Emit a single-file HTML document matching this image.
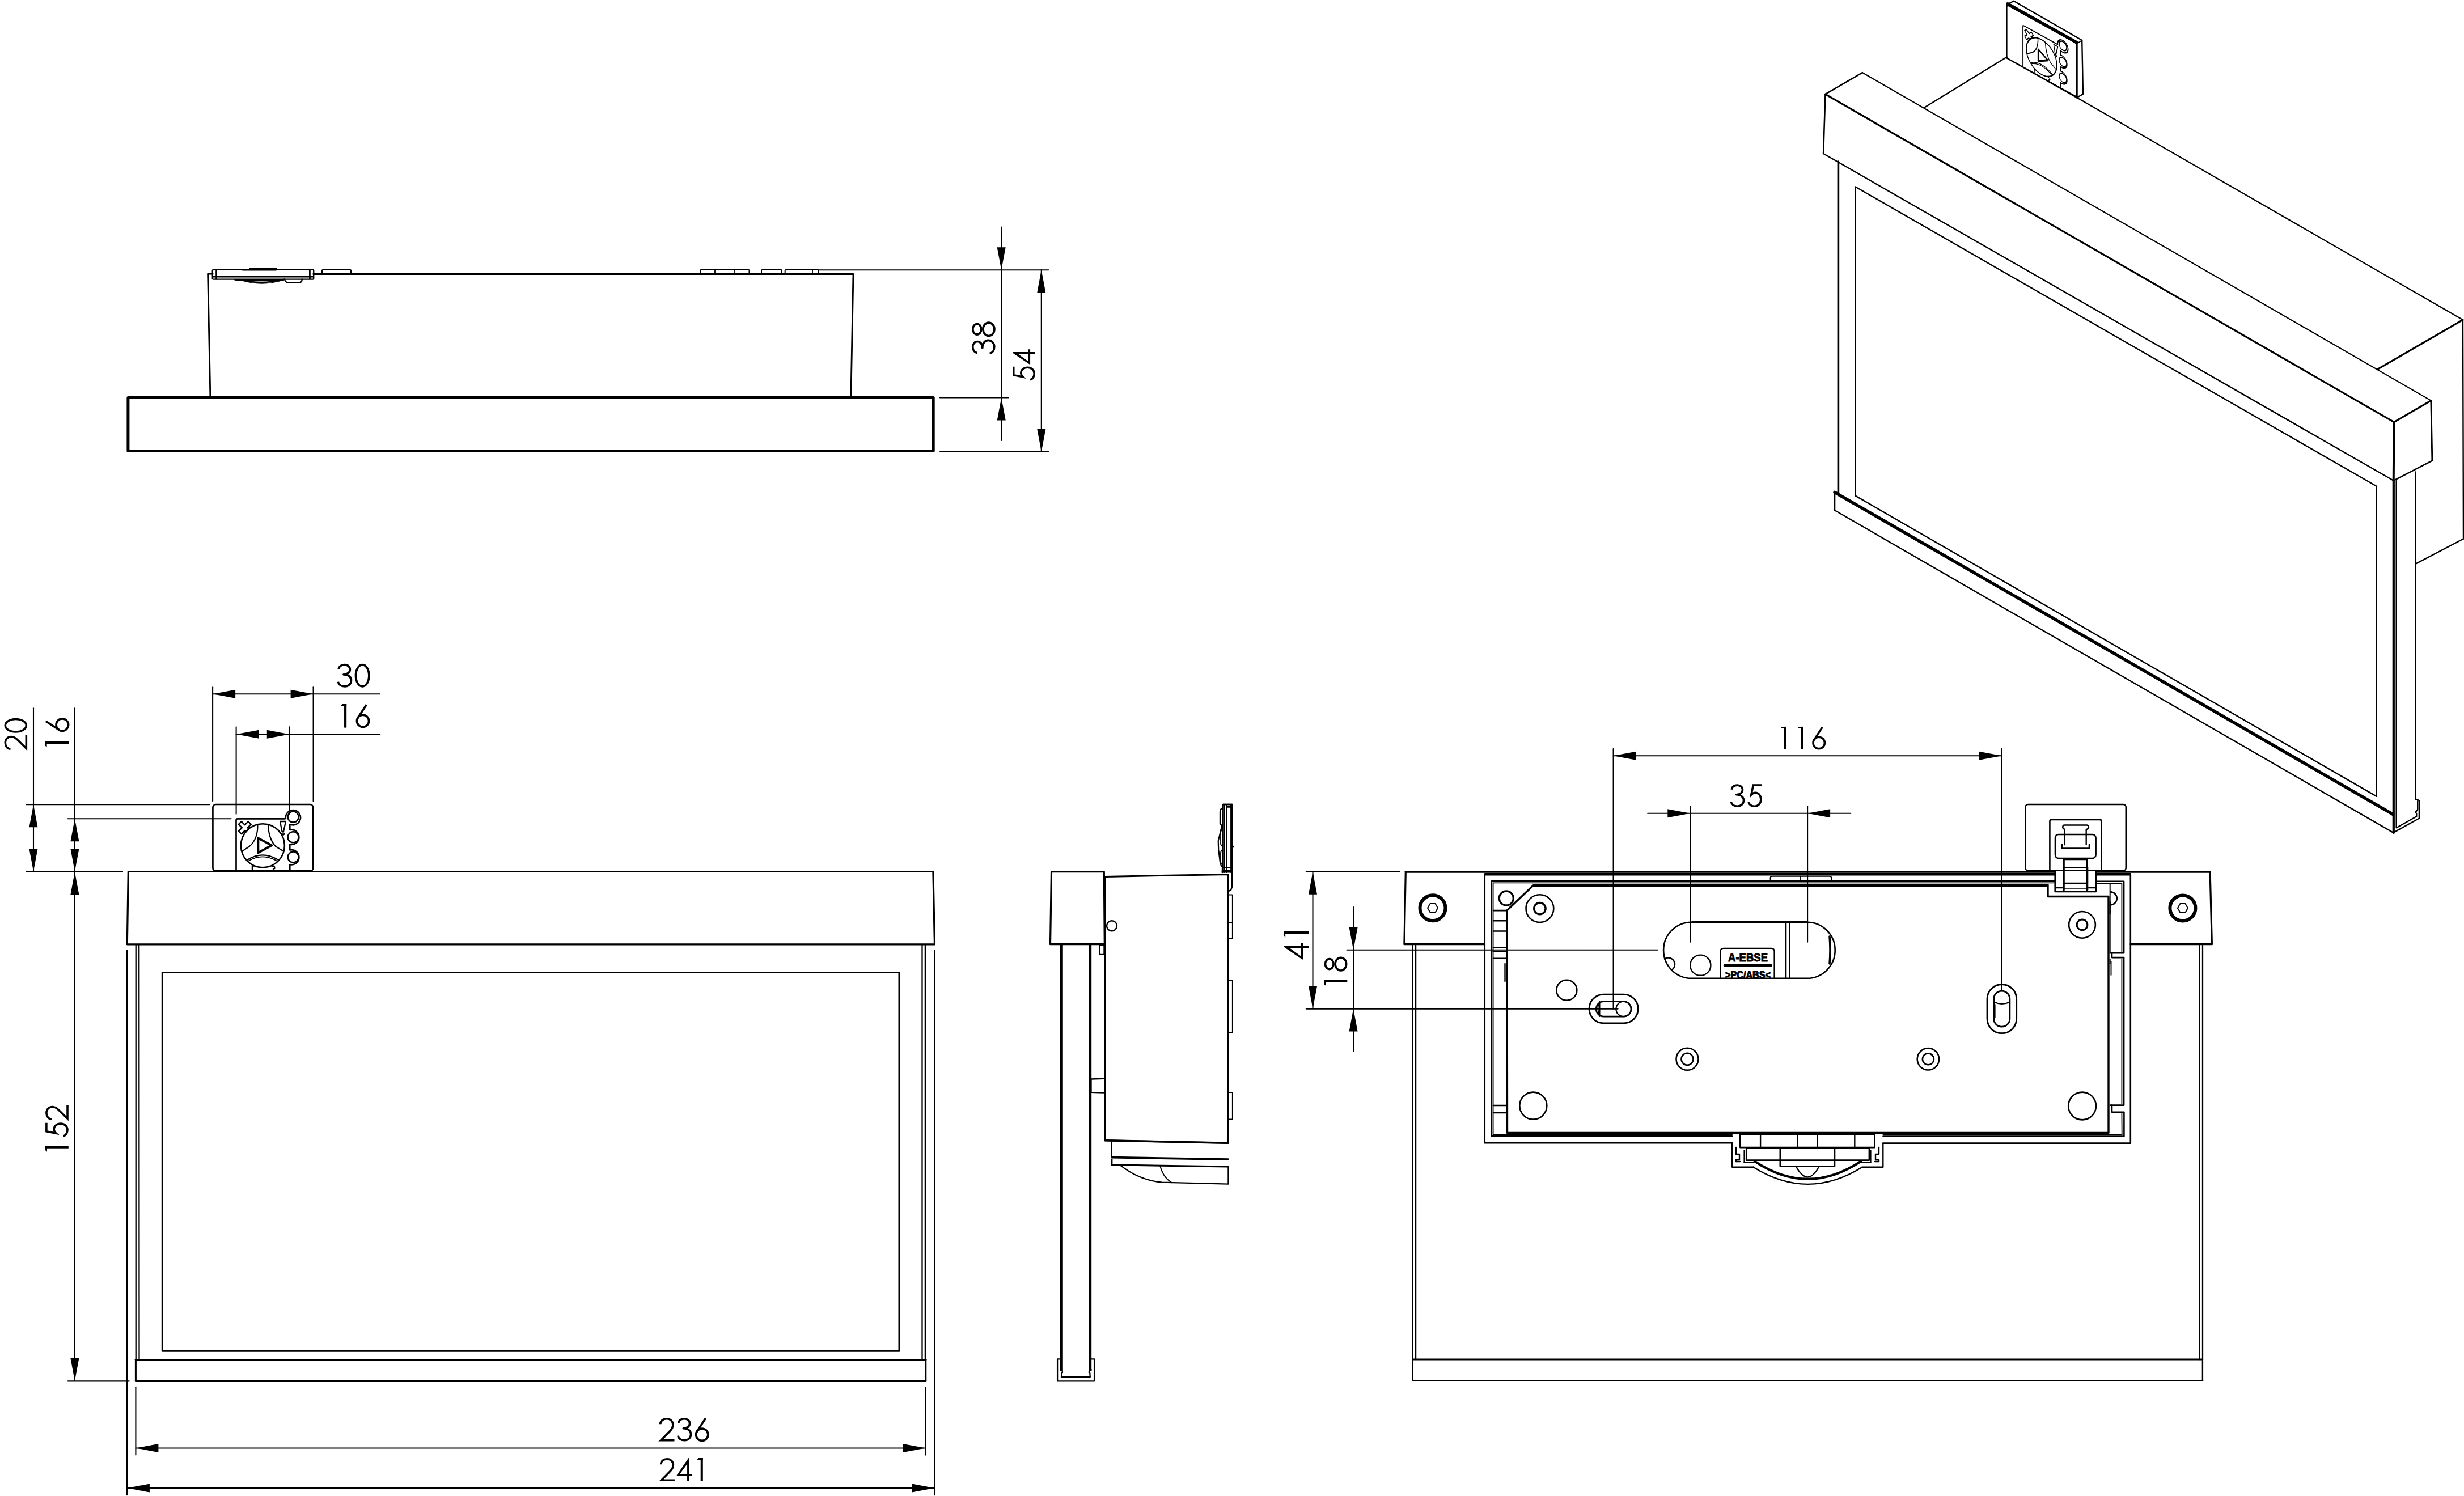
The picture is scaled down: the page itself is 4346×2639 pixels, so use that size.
<!DOCTYPE html>
<html><head><meta charset="utf-8"><style>
html,body{margin:0;padding:0;background:#fff;}
svg{display:block;}
</style></head><body>
<svg width="4346" height="2639" viewBox="0 0 4346 2639">
<rect x="0" y="0" width="4346" height="2639" fill="#fff"/>
<g stroke="#000" fill="none" stroke-linecap="round" stroke-linejoin="round" font-family="Liberation Sans, sans-serif">
<g fill="#000" stroke="none"></g>
<rect x="225.9" y="701.4" width="1420.3" height="94" rx="0" stroke-width="5" fill="none"/>
<polyline points="375.2,483.2 366.6,483.2 370.9,700 1500.9,700 1505,483.5 552.6,483.5" stroke-width="2.8" fill="none"/>
<rect x="374.8" y="475.9" width="178.4" height="16.7" rx="1.5" stroke-width="2.4" fill="none"/>
<line x1="376" y1="487.1" x2="552" y2="487.1" stroke-width="2.4"/>
<line x1="376" y1="490" x2="552" y2="490" stroke-width="1"/>
<line x1="381.6" y1="476.5" x2="381.6" y2="492" stroke-width="2.8"/>
<line x1="546.4" y1="476.5" x2="546.4" y2="492" stroke-width="2.8"/>
<rect x="439.5" y="472.5" width="48.9" height="4.5" rx="1.8" stroke-width="1" fill="#000"/>
<line x1="428" y1="476.2" x2="440" y2="476.2" stroke-width="2.6"/>
<path d="M414.5,493.4 L426,493.4 Q460,503 500.9,493" stroke-width="2.6" fill="none"/>
<line x1="416" y1="493.6" x2="500" y2="493.6" stroke-width="2.6"/>
<path d="M425,494.5 Q462,506 500,494" stroke-width="1.2" fill="none"/>
<path d="M502,492.4 Q503,498.6 509,498.6 L527,498.6 Q532.7,498.6 532.7,492.4" stroke-width="2.4" fill="none"/>
<rect x="568" y="476" width="51" height="7.2" rx="1.2" stroke-width="2" fill="none"/>
<rect x="1235" y="476" width="86.5" height="7.5" rx="1.2" stroke-width="2" fill="none"/>
<line x1="1261" y1="476" x2="1261" y2="483.5" stroke-width="1.8"/>
<line x1="1296" y1="476" x2="1296" y2="483.5" stroke-width="1.8"/>
<rect x="1343" y="476" width="36" height="7.5" rx="1.2" stroke-width="2" fill="none"/>
<rect x="1384.7" y="476" width="58.8" height="7.5" rx="1.2" stroke-width="2" fill="none"/>
<line x1="1433" y1="476" x2="1433" y2="483.5" stroke-width="1.8"/>
<line x1="1444" y1="476.2" x2="1849.4" y2="476.2" stroke-width="2.1"/>
<line x1="1658" y1="701.5" x2="1778.8" y2="701.5" stroke-width="2.1"/>
<line x1="1658" y1="797" x2="1849.4" y2="797" stroke-width="2.1"/>
<line x1="1766.2" y1="400.6" x2="1766.2" y2="777" stroke-width="2.1"/>
<polygon points="1766.2,476.2 1758.7,436.2 1773.7,436.2" stroke="none" fill="#000"/>
<polygon points="1766.2,701.5 1758.7,741.5 1773.7,741.5" stroke="none" fill="#000"/>
<line x1="1836.8" y1="476.2" x2="1836.8" y2="797" stroke-width="2.1"/>
<polygon points="1836.8,476.2 1829.3,516.2 1844.3,516.2" stroke="none" fill="#000"/>
<polygon points="1836.8,797 1829.3,757 1844.3,757" stroke="none" fill="#000"/>
<g transform="matrix(0,-41.700,41.700,0,1713.900,611.884)" stroke-width="0.088" stroke-linecap="butt" fill="none"><g transform="translate(0.000,0)"><path d="M-0.255,0.23 C-0.235,0.11 -0.135,0.044 -0.005,0.044 C0.135,0.044 0.225,0.13 0.225,0.24 C0.225,0.36 0.125,0.453 -0.045,0.453 C0.165,0.453 0.275,0.57 0.275,0.7 C0.275,0.85 0.155,0.956 0.005,0.956 C-0.155,0.956 -0.255,0.87 -0.275,0.76"/></g><g transform="translate(0.745,0)"><ellipse cx="0" cy="0.225" rx="0.223" ry="0.18"/><ellipse cx="0" cy="0.72" rx="0.28" ry="0.24"/></g></g>
<g transform="matrix(0,-40.000,40.000,0,1786.000,659.200)" stroke-width="0.088" stroke-linecap="butt" fill="none"><g transform="translate(0.000,0)"><path d="M0.31,0.044 L-0.06,0.044 L-0.145,0.46 C-0.09,0.4 -0.03,0.37 0.03,0.37 C0.18,0.37 0.275,0.5 0.275,0.665 C0.275,0.83 0.16,0.956 0.005,0.956 C-0.13,0.956 -0.23,0.88 -0.27,0.78" stroke-linejoin="miter"/></g><g transform="translate(0.745,0)"><path d="M0.175,0 L0.213,0 L0.213,0.69 L0.33,0.69 L0.33,0.777 L0.213,0.777 L0.213,1 L0.117,1 L0.117,0.777 L-0.33,0.777 L-0.33,0.74 Z M0.117,0.255 L0.117,0.69 L-0.2,0.69 Z" fill="#000" fill-rule="evenodd" stroke="none"/></g></g>
<polygon points="226.3,1537.5 1645.9,1537.5 1648.5,1665.8 224.3,1665.8" stroke-width="3.2" fill="none"/>
<line x1="239.7" y1="1667" x2="239.7" y2="2398" stroke-width="2.3"/>
<line x1="245.2" y1="1667" x2="245.5" y2="2398" stroke-width="2.3"/>
<line x1="1626.5" y1="1667" x2="1626.5" y2="2398" stroke-width="2.3"/>
<line x1="1631.9" y1="1667" x2="1631.9" y2="2398" stroke-width="2.3"/>
<line x1="224" y1="1676" x2="224" y2="2637.3" stroke-width="2.1"/>
<line x1="1648.5" y1="1676" x2="1648.5" y2="2637.3" stroke-width="2.1"/>
<rect x="286.3" y="1715.5" width="1299.7" height="667.8" rx="0" stroke-width="3" fill="none"/>
<line x1="239.4" y1="2398.6" x2="1632.8" y2="2398.6" stroke-width="3.4"/>
<line x1="239.4" y1="2436.2" x2="1632.8" y2="2436.2" stroke-width="3.4"/>
<line x1="239.4" y1="2398.6" x2="239.4" y2="2436.2" stroke-width="3"/>
<line x1="1632.8" y1="2398.6" x2="1632.8" y2="2436.2" stroke-width="3"/>
<line x1="239.4" y1="2447.3" x2="239.4" y2="2566.6" stroke-width="2.1"/>
<line x1="1632.8" y1="2447.3" x2="1632.8" y2="2566.6" stroke-width="2.1"/>
<line x1="239.4" y1="2554.5" x2="1632.8" y2="2554.5" stroke-width="2.1"/>
<polygon points="239.4,2554.5 279.4,2547 279.4,2562" stroke="none" fill="#000"/>
<polygon points="1632.8,2554.5 1592.8,2547 1592.8,2562" stroke="none" fill="#000"/>
<line x1="223.9" y1="2625.1" x2="1648.4" y2="2625.1" stroke-width="2.1"/>
<polygon points="223.9,2625.1 263.9,2617.6 263.9,2632.6" stroke="none" fill="#000"/>
<polygon points="1648.4,2625.1 1608.4,2617.6 1608.4,2632.6" stroke="none" fill="#000"/>
<g transform="matrix(41.700,0,0,41.700,1176.121,2500.900)" stroke-width="0.088" stroke-linecap="butt" fill="none"><g transform="translate(0.000,0)"><path d="M-0.273,0.27 C-0.273,0.13 -0.151,0.044 -0.005,0.044 C0.149,0.044 0.259,0.15 0.259,0.3 C0.259,0.42 0.199,0.5 0.119,0.58 L-0.251,0.956 L0.321,0.956" stroke-linejoin="miter" stroke-miterlimit="8"/></g><g transform="translate(0.745,0)"><path d="M-0.255,0.23 C-0.235,0.11 -0.135,0.044 -0.005,0.044 C0.135,0.044 0.225,0.13 0.225,0.24 C0.225,0.36 0.125,0.453 -0.045,0.453 C0.165,0.453 0.275,0.57 0.275,0.7 C0.275,0.85 0.155,0.956 0.005,0.956 C-0.155,0.956 -0.255,0.87 -0.275,0.76"/></g><g transform="translate(1.490,0)"><circle cx="0" cy="0.715" r="0.256"/><path d="M0.15,0.025 L-0.225,0.6"/></g></g>
<g transform="matrix(40.900,0,0,40.900,1176.821,2572.100)" stroke-width="0.088" stroke-linecap="butt" fill="none"><g transform="translate(0.000,0)"><path d="M-0.273,0.27 C-0.273,0.13 -0.151,0.044 -0.005,0.044 C0.149,0.044 0.259,0.15 0.259,0.3 C0.259,0.42 0.199,0.5 0.119,0.58 L-0.251,0.956 L0.321,0.956" stroke-linejoin="miter" stroke-miterlimit="8"/></g><g transform="translate(0.745,0)"><path d="M0.175,0 L0.213,0 L0.213,0.69 L0.33,0.69 L0.33,0.777 L0.213,0.777 L0.213,1 L0.117,1 L0.117,0.777 L-0.33,0.777 L-0.33,0.74 Z M0.117,0.255 L0.117,0.69 L-0.2,0.69 Z" fill="#000" fill-rule="evenodd" stroke="none"/></g><g transform="translate(1.490,0)"><path d="M0,0 L0,1" stroke-width="0.1"/><path d="M-0.2,0.07 L-0.135,0 L0.05,0 L0.05,0.07 Z" fill="#000" stroke="none"/></g></g>
<line x1="131.9" y1="1249.3" x2="131.9" y2="2436" stroke-width="2.1"/>
<polygon points="131.9,1444.2 124.4,1484.2 139.4,1484.2" stroke="none" fill="#000"/>
<polygon points="131.9,1537.4 124.4,1497.4 139.4,1497.4" stroke="none" fill="#000"/>
<polygon points="131.9,1538 124.4,1578 139.4,1578" stroke="none" fill="#000"/>
<polygon points="131.9,2436 124.4,2396 139.4,2396" stroke="none" fill="#000"/>
<line x1="59" y1="1249.3" x2="59" y2="1538" stroke-width="2.1"/>
<polygon points="59,1419.2 51.5,1459.2 66.5,1459.2" stroke="none" fill="#000"/>
<polygon points="59,1537.4 51.5,1497.4 66.5,1497.4" stroke="none" fill="#000"/>
<line x1="46.6" y1="1419.2" x2="369.4" y2="1419.2" stroke-width="2.1"/>
<line x1="119.7" y1="1444.2" x2="407.6" y2="1444.2" stroke-width="2.1"/>
<line x1="46.6" y1="1537.4" x2="216" y2="1537.4" stroke-width="2.1"/>
<line x1="119.9" y1="2436.4" x2="227.8" y2="2436.4" stroke-width="2.1"/>
<g transform="matrix(0,-40.600,40.600,0,7.500,1310.004)" stroke-width="0.088" stroke-linecap="butt" fill="none"><g transform="translate(0.000,0)"><path d="M-0.273,0.27 C-0.273,0.13 -0.151,0.044 -0.005,0.044 C0.149,0.044 0.259,0.15 0.259,0.3 C0.259,0.42 0.199,0.5 0.119,0.58 L-0.251,0.956 L0.321,0.956" stroke-linejoin="miter" stroke-miterlimit="8"/></g><g transform="translate(0.745,0)"><ellipse cx="0" cy="0.5" rx="0.2785" ry="0.456"/></g></g>
<g transform="matrix(0,-42.100,42.100,0,79.700,1309.937)" stroke-width="0.088" stroke-linecap="butt" fill="none"><g transform="translate(0.000,0)"><path d="M0,0 L0,1" stroke-width="0.1"/><path d="M-0.2,0.07 L-0.135,0 L0.05,0 L0.05,0.07 Z" fill="#000" stroke="none"/></g><g transform="translate(0.745,0)"><circle cx="0" cy="0.715" r="0.256"/><path d="M0.15,0.025 L-0.225,0.6"/></g></g>
<g transform="matrix(0,-40.700,40.700,0,80.100,2023.634)" stroke-width="0.088" stroke-linecap="butt" fill="none"><g transform="translate(0.000,0)"><path d="M0,0 L0,1" stroke-width="0.1"/><path d="M-0.2,0.07 L-0.135,0 L0.05,0 L0.05,0.07 Z" fill="#000" stroke="none"/></g><g transform="translate(0.745,0)"><path d="M0.31,0.044 L-0.06,0.044 L-0.145,0.46 C-0.09,0.4 -0.03,0.37 0.03,0.37 C0.18,0.37 0.275,0.5 0.275,0.665 C0.275,0.83 0.16,0.956 0.005,0.956 C-0.13,0.956 -0.23,0.88 -0.27,0.78" stroke-linejoin="miter"/></g><g transform="translate(1.490,0)"><path d="M-0.273,0.27 C-0.273,0.13 -0.151,0.044 -0.005,0.044 C0.149,0.044 0.259,0.15 0.259,0.3 C0.259,0.42 0.199,0.5 0.119,0.58 L-0.251,0.956 L0.321,0.956" stroke-linejoin="miter" stroke-miterlimit="8"/></g></g>
<line x1="375.1" y1="1224.3" x2="670.2" y2="1224.3" stroke-width="2.1"/>
<polygon points="375.1,1224.3 415.1,1216.8 415.1,1231.8" stroke="none" fill="#000"/>
<polygon points="552.6,1224.3 512.6,1216.8 512.6,1231.8" stroke="none" fill="#000"/>
<line x1="375.1" y1="1212.3" x2="375.1" y2="1413.2" stroke-width="2.1"/>
<line x1="552.6" y1="1212.3" x2="552.6" y2="1413.2" stroke-width="2.1"/>
<g transform="matrix(42.000,0,0,42.000,607.883,1170.800)" stroke-width="0.088" stroke-linecap="butt" fill="none"><g transform="translate(0.000,0)"><path d="M-0.255,0.23 C-0.235,0.11 -0.135,0.044 -0.005,0.044 C0.135,0.044 0.225,0.13 0.225,0.24 C0.225,0.36 0.125,0.453 -0.045,0.453 C0.165,0.453 0.275,0.57 0.275,0.7 C0.275,0.85 0.155,0.956 0.005,0.956 C-0.155,0.956 -0.255,0.87 -0.275,0.76"/></g><g transform="translate(0.745,0)"><ellipse cx="0" cy="0.5" rx="0.2785" ry="0.456"/></g></g>
<line x1="416.6" y1="1295.3" x2="670.2" y2="1295.3" stroke-width="2.1"/>
<polygon points="416.6,1295.3 456.6,1287.8 456.6,1302.8" stroke="none" fill="#000"/>
<polygon points="510.8,1295.3 470.8,1287.8 470.8,1302.8" stroke="none" fill="#000"/>
<line x1="416.6" y1="1282.4" x2="416.6" y2="1435.8" stroke-width="2.1"/>
<line x1="510.8" y1="1282.4" x2="510.8" y2="1436" stroke-width="2.1"/>
<g transform="matrix(41.500,0,0,41.500,609.116,1242.100)" stroke-width="0.088" stroke-linecap="butt" fill="none"><g transform="translate(0.000,0)"><path d="M0,0 L0,1" stroke-width="0.1"/><path d="M-0.2,0.07 L-0.135,0 L0.05,0 L0.05,0.07 Z" fill="#000" stroke="none"/></g><g transform="translate(0.745,0)"><circle cx="0" cy="0.715" r="0.256"/><path d="M0.15,0.025 L-0.225,0.6"/></g></g>
<rect x="375.4" y="1419" width="176.9" height="117.4" rx="5.4" stroke-width="2.7" fill="none"/>
<path d="M416.5,1536.4 L416.5,1447 Q416.5,1444.3 419,1444.3 L501.8,1444.3" stroke-width="2.7" fill="none"/>
<circle cx="463.4" cy="1491.7" r="38.5" stroke-width="2.6" fill="none"/>
<polygon points="455.3,1478.6 479.2,1491.2 455.3,1504.3" stroke-width="4" fill="none"/>
<path d="M454.4,1455.1 Q455,1480 440,1493 L427.8,1501.2" stroke-width="2.2" fill="none"/>
<path d="M472.9,1455.1 Q474,1480 486,1493 L500,1501.6" stroke-width="2.2" fill="none"/>
<path d="M436.8,1516.5 Q463.4,1500 490.9,1517" stroke-width="2.2" fill="none"/>
<path d="M438.5,1518.5 Q463.4,1504 489,1519" stroke-width="1.6" fill="none"/>
<polygon points="437.81,1449.14 442.76,1454.09 436.75,1460.1 438.66,1462.01 433.71,1466.96 431.8,1465.05 425.79,1471.06 420.84,1466.11 426.85,1460.1 420.84,1454.09 425.79,1449.14 431.8,1455.15" stroke-width="2.5" fill="none"/>
<path d="M494,1449 L504,1449 L500,1467 L497.5,1467 Z" stroke-width="2.3" fill="none"/>
<circle cx="499.5" cy="1471" r="1.8" stroke-width="1.8" fill="none"/>
<circle cx="517.1" cy="1441.1" r="9.5" stroke-width="2.5" fill="none"/>
<circle cx="517.1" cy="1476.8" r="9.5" stroke-width="2.5" fill="none"/>
<circle cx="517.1" cy="1512" r="9.5" stroke-width="2.5" fill="none"/>
<path d="M511.3,1536 L511.3,1525 A13.1,13.1 0 1 0 511.3,1499.5 L511.3,1489.5 A13.1,13.1 0 1 0 511.3,1464 L511.3,1454 A13.1,13.1 0 1 0 504,1444.3" stroke-width="2.6" fill="none"/>
<polyline points="444.9,1536.4 444.9,1528 449,1527.3" stroke-width="2.3" fill="none"/>
<polyline points="479,1527.3 484,1529 484.5,1532 482,1533 482,1536.4" stroke-width="2.3" fill="none"/>
<g transform="matrix(0.7004,0.3878,0,0.7998,3276.37,-1272.1)">
<rect x="375.4" y="1419" width="176.9" height="117.4" rx="5.4" stroke-width="2.7" fill="none"/>
<path d="M416.5,1536.4 L416.5,1447 Q416.5,1444.3 419,1444.3 L501.8,1444.3" stroke-width="2.7" fill="none"/>
<circle cx="463.4" cy="1491.7" r="38.5" stroke-width="2.6" fill="none"/>
<polygon points="455.3,1478.6 479.2,1491.2 455.3,1504.3" stroke-width="4" fill="none"/>
<path d="M454.4,1455.1 Q455,1480 440,1493 L427.8,1501.2" stroke-width="2.2" fill="none"/>
<path d="M472.9,1455.1 Q474,1480 486,1493 L500,1501.6" stroke-width="2.2" fill="none"/>
<path d="M436.8,1516.5 Q463.4,1500 490.9,1517" stroke-width="2.2" fill="none"/>
<path d="M438.5,1518.5 Q463.4,1504 489,1519" stroke-width="1.6" fill="none"/>
<polygon points="437.81,1449.14 442.76,1454.09 436.75,1460.1 438.66,1462.01 433.71,1466.96 431.8,1465.05 425.79,1471.06 420.84,1466.11 426.85,1460.1 420.84,1454.09 425.79,1449.14 431.8,1455.15" stroke-width="2.5" fill="none"/>
<path d="M494,1449 L504,1449 L500,1467 L497.5,1467 Z" stroke-width="2.3" fill="none"/>
<circle cx="499.5" cy="1471" r="1.8" stroke-width="1.8" fill="none"/>
<circle cx="517.1" cy="1441.1" r="9.5" stroke-width="2.5" fill="none"/>
<circle cx="517.1" cy="1476.8" r="9.5" stroke-width="2.5" fill="none"/>
<circle cx="517.1" cy="1512" r="9.5" stroke-width="2.5" fill="none"/>
<path d="M511.3,1536 L511.3,1525 A13.1,13.1 0 1 0 511.3,1499.5 L511.3,1489.5 A13.1,13.1 0 1 0 511.3,1464 L511.3,1454 A13.1,13.1 0 1 0 504,1444.3" stroke-width="2.6" fill="none"/>
<polyline points="444.9,1536.4 444.9,1528 449,1527.3" stroke-width="2.3" fill="none"/>
<polyline points="479,1527.3 484,1529 484.5,1532 482,1533 482,1536.4" stroke-width="2.3" fill="none"/>
</g>
<polygon points="1854.5,1537.7 1947.3,1537.7 1948.3,1665.7 1852.5,1665.7" stroke-width="3.2" fill="none"/>
<line x1="1872.2" y1="1666" x2="1872.2" y2="2415.7" stroke-width="5.2"/>
<line x1="1922.6" y1="1666" x2="1922.6" y2="2415.7" stroke-width="5.2"/>
<polyline points="1869.5,2397.4 1865.1,2397.4 1865.1,2436.3 1930.1,2436.3 1930.1,2397.4 1925.4,2397.4" stroke-width="2.3" fill="none"/>
<polyline points="1870,2416.5 1873.5,2417 1874,2421 1872.5,2422 1872,2429 1922.8,2429 1922.3,2422 1920.8,2421 1921.2,2417 1925,2416.5" stroke-width="2.3" fill="none"/>
<polyline points="2157.2,1539 2157.2,1419 2173.05,1419 2173.05,1564.4 2171,1570 2166.4,1572.4" stroke-width="2.5" fill="none"/>
<line x1="2159.9" y1="1419" x2="2159.9" y2="1539" stroke-width="1.9"/>
<line x1="2163.1" y1="1419" x2="2163.1" y2="1539" stroke-width="2.2"/>
<line x1="2171.1" y1="1419" x2="2171.1" y2="1539" stroke-width="2"/>
<line x1="2163" y1="1422.5" x2="2171" y2="1422.5" stroke-width="1.8"/>
<line x1="2163" y1="1425.1" x2="2171" y2="1425.1" stroke-width="1.8"/>
<line x1="2157" y1="1531" x2="2171" y2="1531" stroke-width="1.8"/>
<line x1="2157" y1="1535.8" x2="2171" y2="1535.8" stroke-width="1.8"/>
<path d="M2156.1,1425.6 Q2151.9,1427 2151.9,1432 L2151.9,1452.4 Q2152.5,1455 2156,1456.5 M2155.5,1455 L2148.7,1483.4 L2149.2,1498.4 L2151.9,1520.9 Q2153,1527 2156.1,1529.4 L2155.6,1539 L2157.2,1539" stroke-width="2.2" fill="none"/>
<path d="M2156,1463 Q2153,1465 2153,1470 L2153,1488 Q2153,1491 2156,1492 M2156,1499 Q2153,1501 2153,1505 L2153,1520 Q2153,1524 2156,1525" stroke-width="1.8" fill="none"/>
<path d="M2173.05,1489.5 L2175,1494 L2173.05,1497" stroke-width="2.2" fill="none"/>
<rect x="2166.9" y="1578.4" width="7" height="49.2" rx="1" stroke-width="2" fill="none"/>
<rect x="2166.9" y="1627.6" width="7" height="28" rx="1" stroke-width="2" fill="none"/>
<rect x="2166.9" y="1729.5" width="7" height="92.1" rx="1" stroke-width="2" fill="none"/>
<rect x="2166.4" y="1926.9" width="7.5" height="47.6" rx="1" stroke-width="2" fill="none"/>
<rect x="1939.3" y="1667.7" width="8" height="16" rx="0" stroke-width="2" fill="none"/>
<polygon points="1949.3,1546.4 2165.9,1542.4 2166.4,2016.3 1949,2011.8" stroke-width="3" fill="none"/>
<circle cx="1961" cy="1633.2" r="9" stroke-width="2.4" fill="none"/>
<polyline points="1946.1,1902.8 1924.4,1903.5 1924.4,1926.9 1946.1,1927.6" stroke-width="2.4" fill="none"/>
<rect x="2157.4" y="1419" width="15.9" height="119.3" rx="0" stroke-width="2.4" fill="none"/>
<line x1="1949" y1="2011.8" x2="2166" y2="2016.3" stroke-width="3.6"/>
<line x1="1960.3" y1="2014.6" x2="1960.3" y2="2041.4" stroke-width="2.6"/>
<line x1="1961" y1="2041.6" x2="2166" y2="2045.2" stroke-width="3.8"/>
<line x1="1961.1" y1="2045.6" x2="1961.1" y2="2054.8" stroke-width="2.6"/>
<line x1="1961" y1="2054.8" x2="2166" y2="2058.1" stroke-width="3"/>
<path d="M1977,2056.4 Q2010,2082 2049.7,2085.7 L2166.4,2088.7 L2166.4,2058" stroke-width="2.2" fill="none"/>
<path d="M2046.4,2057.3 Q2052,2078 2067.3,2086.5" stroke-width="2" fill="none"/>
<line x1="2479.3" y1="1537.9" x2="3624.8" y2="1537.9" stroke-width="3.6"/>
<line x1="3697" y1="1537.9" x2="3898.1" y2="1537.9" stroke-width="3.6"/>
<polyline points="2479.3,1537.9 2476.9,1665.6 2618.75,1665.6" stroke-width="3.2" fill="none"/>
<polyline points="3898.1,1537.9 3901.4,1665.6 3757.7,1665.6" stroke-width="3.2" fill="none"/>
<line x1="2491.6" y1="1667.8" x2="2491.6" y2="2398" stroke-width="2.3"/>
<line x1="2497.1" y1="1667.8" x2="2497.1" y2="2398" stroke-width="2.3"/>
<line x1="3879.5" y1="1667.8" x2="3879.5" y2="2398" stroke-width="2.3"/>
<line x1="3885" y1="1667.8" x2="3885" y2="2398" stroke-width="2.3"/>
<line x1="2491.4" y1="2398" x2="3884.9" y2="2398" stroke-width="2.8"/>
<line x1="2491.4" y1="2435.7" x2="3884.9" y2="2435.7" stroke-width="2.8"/>
<line x1="2491.4" y1="2398" x2="2491.4" y2="2435.7" stroke-width="2.4"/>
<line x1="3884.9" y1="2398" x2="3884.9" y2="2435.7" stroke-width="2.4"/>
<polyline points="3055.2,2016.2 2618.75,2016.2 2618.75,1543.1 3625,1543.1" stroke-width="2.6" fill="none"/>
<polyline points="3697.2,1543.1 3757.8,1543.1 3757.8,2016.6 3321.3,2016.6" stroke-width="2.6" fill="none"/>
<line x1="2618.75" y1="1540.8" x2="3625" y2="1540.8" stroke-width="1.6"/>
<line x1="3697.2" y1="1540.8" x2="3757.8" y2="1540.8" stroke-width="1.6"/>
<polyline points="3055,2004.5 2630.7,2004.5 2630.7,1554.4 3625,1554.4" stroke-width="3" fill="none"/>
<polyline points="3055,2001.5 2633.6,2001.5 2633.6,1557.3 3625,1557.3" stroke-width="1.8" fill="none"/>
<polyline points="3697,1554.7 3746.1,1554.7 3746.1,1681.1 3721.7,1681.1" stroke-width="2.6" fill="none"/>
<polyline points="3725,1681.1 3725,1689.1 3746.1,1689.1 3746.1,1949.6 3721.7,1949.6" stroke-width="2.6" fill="none"/>
<polyline points="3725,1949.6 3725,1961.8 3746.4,1961.8 3746.4,2004.5 3321.5,2004.5" stroke-width="2.6" fill="none"/>
<polyline points="3697,1558.3 3742.4,1558.3 3742.4,1678.4" stroke-width="1.8" fill="none"/>
<polyline points="3742.4,1692 3742.4,1947" stroke-width="1.8" fill="none"/>
<polyline points="3742.4,1964.5 3742.7,2001.5 3321.5,2001.5" stroke-width="1.8" fill="none"/>
<line x1="3721.7" y1="1558.7" x2="3721.7" y2="1678.4" stroke-width="2"/>
<path d="M3722.4,1573.4 A11.4,11.4 0 0 1 3722.4,1596.2" stroke-width="2.6" fill="none"/>
<line x1="3721.7" y1="1692" x2="3721.7" y2="1700" stroke-width="2"/>
<line x1="3723.5" y1="1696" x2="3723.5" y2="1720" stroke-width="2"/>
<polyline points="3612,1561.8 2704.5,1561.8 2658,1606.1 2658.5,1998.5 3719,1998.5 3719,1581.5 3612,1581.5 3612,1560.7" stroke-width="3.4" fill="none"/>
<line x1="2704.5" y1="1563" x2="3612" y2="1563" stroke-width="2"/>
<line x1="2634" y1="1606.1" x2="2656.8" y2="1606.1" stroke-width="2.6"/>
<line x1="2634" y1="1624.3" x2="2656.8" y2="1624.3" stroke-width="2.6"/>
<line x1="2634" y1="1642.5" x2="2656.8" y2="1642.5" stroke-width="2.6"/>
<line x1="2634" y1="1671.5" x2="2656.8" y2="1671.5" stroke-width="2.6"/>
<line x1="2634" y1="1678.3" x2="2656.8" y2="1678.3" stroke-width="2.6"/>
<line x1="2634" y1="1690.8" x2="2656.8" y2="1690.8" stroke-width="2.6"/>
<line x1="2634" y1="1950" x2="2656.8" y2="1950" stroke-width="2.6"/>
<line x1="2634" y1="1963" x2="2656.8" y2="1963" stroke-width="2.6"/>
<line x1="2654.5" y1="1700" x2="2654.5" y2="1731" stroke-width="2.4"/>
<line x1="3721.7" y1="1590" x2="3721.7" y2="1612" stroke-width="2.2"/>
<rect x="3122.6" y="1545.7" width="107.6" height="8.4" rx="3" stroke-width="2" fill="none"/>
<line x1="3176" y1="1545.7" x2="3176" y2="1554.1" stroke-width="1.8"/>
<circle cx="2527" cy="1601.8" r="22.5" stroke-width="6" fill="none"/>
<polygon points="2536,1601.8 2531.5,1609.59 2522.5,1609.59 2518,1601.8 2522.5,1594.01 2531.5,1594.01" stroke-width="2" fill="none"/>
<circle cx="3849.9" cy="1601.9" r="22.5" stroke-width="6" fill="none"/>
<polygon points="3858.9,1601.9 3854.4,1609.69 3845.4,1609.69 3840.9,1601.9 3845.4,1594.11 3854.4,1594.11" stroke-width="2" fill="none"/>
<circle cx="2715.9" cy="1602.7" r="24.4" stroke-width="2.6" fill="none"/>
<circle cx="2715.9" cy="1602.7" r="10.2" stroke-width="3.4" fill="none"/>
<circle cx="3672.5" cy="1631.4" r="23.4" stroke-width="2.6" fill="none"/>
<circle cx="3672.5" cy="1631.4" r="9.4" stroke-width="3" fill="none"/>
<circle cx="2656.8" cy="1584.5" r="12.5" stroke-width="3.4" fill="none"/>
<circle cx="2763.3" cy="1746.7" r="18" stroke-width="2.6" fill="none"/>
<rect x="2803" y="1754.2" width="86.3" height="50.7" rx="25.3" stroke-width="2.8" fill="none"/>
<rect x="2815.3" y="1766.6" width="61.7" height="26.6" rx="13.3" stroke-width="2.8" fill="none"/>
<circle cx="2863.7" cy="1779.9" r="13.3" stroke-width="2.2" fill="none"/>
<path d="M2822,1768 Q2818,1772 2818.5,1780 Q2819,1789 2823,1792" stroke-width="2" fill="none"/>
<line x1="2821.5" y1="1767" x2="2821.5" y2="1793" stroke-width="2"/>
<circle cx="2976" cy="1868.3" r="19.5" stroke-width="2.6" fill="none"/>
<circle cx="2976" cy="1868.3" r="10.5" stroke-width="2.6" fill="none"/>
<circle cx="3400.9" cy="1868.3" r="19.2" stroke-width="2.6" fill="none"/>
<circle cx="3400.9" cy="1868.3" r="10" stroke-width="2.6" fill="none"/>
<circle cx="2704.3" cy="1950.6" r="24" stroke-width="2.6" fill="none"/>
<circle cx="3672.6" cy="1951" r="24.4" stroke-width="2.6" fill="none"/>
<rect x="3505" y="1736.5" width="51.7" height="86.2" rx="25.8" stroke-width="2.8" fill="none"/>
<rect x="3516.6" y="1748.1" width="28.3" height="63" rx="14.1" stroke-width="2.8" fill="none"/>
<path d="M3518,1768 Q3530.8,1774 3544,1768" stroke-width="2" fill="none"/>
<line x1="3518.5" y1="1772" x2="3518.5" y2="1795" stroke-width="2.2"/>
<rect x="2934.1" y="1626.7" width="302.6" height="99.1" rx="49.5" stroke-width="2.6" fill="none"/>
<line x1="2985" y1="1627" x2="3186" y2="1627" stroke-width="4"/>
<path d="M3034.5,1725.8 L3034.5,1678.3 Q3034.5,1672.9 3040,1672.9 L3124,1672.9 Q3129.6,1672.9 3129.6,1678.3 L3129.6,1725.8" stroke-width="2.4" fill="none"/>
<text x="3083" y="1695.7" font-size="21" font-weight="bold" text-anchor="middle" textLength="70" lengthAdjust="spacingAndGlyphs" fill="#000" stroke="#000" stroke-width="1">A-EBSE</text>
<line x1="3042" y1="1703.1" x2="3123.5" y2="1703.1" stroke-width="4.8"/>
<text x="3083" y="1726" font-size="18" font-weight="bold" text-anchor="middle" textLength="80" lengthAdjust="spacingAndGlyphs" fill="#000" stroke="#000" stroke-width="1">&gt;PC/ABS&lt;</text>
<line x1="3150.1" y1="1627" x2="3150.1" y2="1725.8" stroke-width="2.4"/>
<line x1="3156.4" y1="1627" x2="3156.4" y2="1725.8" stroke-width="2.4"/>
<circle cx="2999.3" cy="1702.7" r="18.1" stroke-width="2.4" fill="none"/>
<path d="M2936,1691.5 A10.7,10.7 0 0 1 2948.9,1710.8" stroke-width="2.4" fill="none"/>
<path d="M3227,1652 Q3229,1676 3227,1700" stroke-width="3.5" fill="none"/>
<polyline points="3055.2,2016.2 3055.2,2058.8 3092.4,2058.8" stroke-width="2.4" fill="none"/>
<polyline points="3284.7,2058.8 3321.3,2058.8 3321.3,2016.6" stroke-width="2.4" fill="none"/>
<path d="M3092.4,2058.8 Q3188.5,2119 3284.7,2058.8" stroke-width="2.4" fill="none"/>
<path d="M3094.8,2048.4 Q3188.5,2111 3282.3,2048.4" stroke-width="4.2" fill="none"/>
<rect x="3069.2" y="2001.5" width="237.4" height="22.6" rx="0" stroke-width="2.6" fill="none"/>
<line x1="3105.1" y1="2001.5" x2="3105.1" y2="2024.1" stroke-width="2.4"/>
<line x1="3170.3" y1="2001.5" x2="3170.3" y2="2024.1" stroke-width="2.4"/>
<line x1="3205.6" y1="2001.5" x2="3205.6" y2="2024.1" stroke-width="2.4"/>
<line x1="3271.3" y1="2001.5" x2="3271.3" y2="2024.1" stroke-width="2.4"/>
<rect x="3080.2" y="2025.3" width="216.7" height="21.3" rx="0" stroke-width="2.6" fill="none"/>
<rect x="3139.8" y="2025.3" width="96.2" height="32.3" rx="0" stroke-width="2.6" fill="none"/>
<path d="M3167.8,2057.6 Q3188.5,2095 3208.6,2057.6" stroke-width="2.2" fill="none"/>
<polyline points="3062,2024 3062,2036 3068,2036 3068,2046 3062,2046 3062,2049 3069,2049" stroke-width="2.4" fill="none"/>
<polyline points="3314,2024 3314,2036 3308,2036 3308,2046 3314,2046 3314,2049 3307,2049" stroke-width="2.4" fill="none"/>
<line x1="3076.5" y1="2029" x2="3076.5" y2="2051" stroke-width="2.2"/>
<line x1="3076.5" y1="2051" x2="3093.6" y2="2051" stroke-width="2.2"/>
<line x1="3299.5" y1="2029" x2="3299.5" y2="2051" stroke-width="2.2"/>
<line x1="3282.3" y1="2051" x2="3299.5" y2="2051" stroke-width="2.2"/>
<rect x="3572.4" y="1419" width="177.4" height="116.8" rx="4.8" stroke-width="2.6" fill="none"/>
<path d="M3615.4,1537 L3615.4,1449 Q3615.4,1445.9 3618.5,1445.9 L3703.5,1445.9 Q3706.6,1445.9 3706.6,1449 L3706.6,1537" stroke-width="2.6" fill="none"/>
<path d="M3641.6,1463 Q3638.2,1462 3638.2,1459 Q3638.2,1455.5 3641.6,1455.5 L3680.6,1455.5 Q3684,1455.5 3684,1459 Q3684,1462 3680.6,1463" stroke-width="2.4" fill="none"/>
<line x1="3641.6" y1="1463" x2="3641.6" y2="1490" stroke-width="2.4"/>
<line x1="3679.7" y1="1463" x2="3679.7" y2="1490" stroke-width="2.4"/>
<rect x="3625" y="1472" width="71.6" height="42.1" rx="6" stroke-width="2.6" fill="none"/>
<polyline points="3637,1490 3637,1496.6 3685,1496.6 3685,1490" stroke-width="2.6" fill="none"/>
<line x1="3640" y1="1515.3" x2="3681" y2="1515.3" stroke-width="4"/>
<line x1="3640.1" y1="1515" x2="3640.1" y2="1570" stroke-width="3.4"/>
<line x1="3680.9" y1="1515" x2="3680.9" y2="1570" stroke-width="2.4"/>
<line x1="3682.5" y1="1530" x2="3682.5" y2="1570" stroke-width="1.6"/>
<line x1="3641.6" y1="1530.3" x2="3679.7" y2="1530.3" stroke-width="2.4"/>
<line x1="3641.6" y1="1558.1" x2="3679.7" y2="1558.1" stroke-width="2.6"/>
<line x1="3641.6" y1="1568.1" x2="3679.7" y2="1568.1" stroke-width="1.8"/>
<polyline points="3624.8,1537.6 3624.8,1572.8 3697,1572.8 3697,1537.6" stroke-width="2.8" fill="none"/>
<line x1="3626.8" y1="1566.1" x2="3637.5" y2="1566.1" stroke-width="2.2"/>
<line x1="3683.5" y1="1566.1" x2="3695" y2="1566.1" stroke-width="2.2"/>
<line x1="2315.5" y1="1537.7" x2="2315.5" y2="1779.6" stroke-width="2.1"/>
<polygon points="2315.5,1537.7 2308,1577.7 2323,1577.7" stroke="none" fill="#000"/>
<polygon points="2315.5,1779.6 2308,1739.6 2323,1739.6" stroke="none" fill="#000"/>
<line x1="2303.8" y1="1537.7" x2="2469" y2="1537.7" stroke-width="2.1"/>
<line x1="2303.8" y1="1779.6" x2="2853.6" y2="1779.6" stroke-width="2.1"/>
<line x1="2387.1" y1="1600" x2="2387.1" y2="1855" stroke-width="2.1"/>
<polygon points="2387.1,1675.8 2379.6,1635.8 2394.6,1635.8" stroke="none" fill="#000"/>
<polygon points="2387.1,1779.6 2379.6,1819.6 2394.6,1819.6" stroke="none" fill="#000"/>
<line x1="2375.4" y1="1675.8" x2="2923.7" y2="1675.8" stroke-width="2.1"/>
<g transform="matrix(0,-44.500,44.500,0,2264.000,1677.896)" stroke-width="0.088" stroke-linecap="butt" fill="none"><g transform="translate(0.000,0)"><path d="M0.175,0 L0.213,0 L0.213,0.69 L0.33,0.69 L0.33,0.777 L0.213,0.777 L0.213,1 L0.117,1 L0.117,0.777 L-0.33,0.777 L-0.33,0.74 Z M0.117,0.255 L0.117,0.69 L-0.2,0.69 Z" fill="#000" fill-rule="evenodd" stroke="none"/></g><g transform="translate(0.745,0)"><path d="M0,0 L0,1" stroke-width="0.1"/><path d="M-0.2,0.07 L-0.135,0 L0.05,0 L0.05,0.07 Z" fill="#000" stroke="none"/></g></g>
<g transform="matrix(0,-40.700,40.700,0,2335.600,1730.884)" stroke-width="0.088" stroke-linecap="butt" fill="none"><g transform="translate(0.000,0)"><path d="M0,0 L0,1" stroke-width="0.1"/><path d="M-0.2,0.07 L-0.135,0 L0.05,0 L0.05,0.07 Z" fill="#000" stroke="none"/></g><g transform="translate(0.745,0)"><ellipse cx="0" cy="0.225" rx="0.223" ry="0.18"/><ellipse cx="0" cy="0.72" rx="0.28" ry="0.24"/></g></g>
<line x1="2845.6" y1="1333.3" x2="3530.8" y2="1333.3" stroke-width="2.1"/>
<polygon points="2845.6,1333.3 2885.6,1325.8 2885.6,1340.8" stroke="none" fill="#000"/>
<polygon points="3530.8,1333.3 3490.8,1325.8 3490.8,1340.8" stroke="none" fill="#000"/>
<line x1="2845.6" y1="1321.1" x2="2845.6" y2="1779.6" stroke-width="2.1"/>
<line x1="3530.8" y1="1321.1" x2="3530.8" y2="1748.3" stroke-width="2.1"/>
<g transform="matrix(40.000,0,0,40.000,3148.600,1281.900)" stroke-width="0.088" stroke-linecap="butt" fill="none"><g transform="translate(0.000,0)"><path d="M0,0 L0,1" stroke-width="0.1"/><path d="M-0.2,0.07 L-0.135,0 L0.05,0 L0.05,0.07 Z" fill="#000" stroke="none"/></g><g transform="translate(0.745,0)"><path d="M0,0 L0,1" stroke-width="0.1"/><path d="M-0.2,0.07 L-0.135,0 L0.05,0 L0.05,0.07 Z" fill="#000" stroke="none"/></g><g transform="translate(1.490,0)"><circle cx="0" cy="0.715" r="0.256"/><path d="M0.15,0.025 L-0.225,0.6"/></g></g>
<line x1="2906" y1="1434.8" x2="3264.4" y2="1434.8" stroke-width="2.1"/>
<polygon points="2981.3,1434.8 2941.3,1427.3 2941.3,1442.3" stroke="none" fill="#000"/>
<polygon points="3188.1,1434.8 3228.1,1427.3 3228.1,1442.3" stroke="none" fill="#000"/>
<line x1="2981.3" y1="1422.2" x2="2981.3" y2="1661.7" stroke-width="2.1"/>
<line x1="3188.1" y1="1422.2" x2="3188.1" y2="1661.7" stroke-width="2.1"/>
<g transform="matrix(40.700,0,0,40.700,3064.386,1383.300)" stroke-width="0.088" stroke-linecap="butt" fill="none"><g transform="translate(0.000,0)"><path d="M-0.255,0.23 C-0.235,0.11 -0.135,0.044 -0.005,0.044 C0.135,0.044 0.225,0.13 0.225,0.24 C0.225,0.36 0.125,0.453 -0.045,0.453 C0.165,0.453 0.275,0.57 0.275,0.7 C0.275,0.85 0.155,0.956 0.005,0.956 C-0.155,0.956 -0.255,0.87 -0.275,0.76"/></g><g transform="translate(0.745,0)"><path d="M0.31,0.044 L-0.06,0.044 L-0.145,0.46 C-0.09,0.4 -0.03,0.37 0.03,0.37 C0.18,0.37 0.275,0.5 0.275,0.665 C0.275,0.83 0.16,0.956 0.005,0.956 C-0.13,0.956 -0.23,0.88 -0.27,0.78" stroke-linejoin="miter"/></g></g>
<line x1="3219.5" y1="166.2" x2="4222.6" y2="744.7" stroke-width="3.2"/>
<line x1="3284.9" y1="128.1" x2="4287.8" y2="706.6" stroke-width="2.2"/>
<line x1="3219.5" y1="166.2" x2="3284.9" y2="128.1" stroke-width="2.6"/>
<line x1="4222.6" y1="744.7" x2="4287.8" y2="706.6" stroke-width="3.2"/>
<line x1="3219.5" y1="166.2" x2="3216.1" y2="271" stroke-width="2.6"/>
<line x1="4222.6" y1="744.7" x2="4221.7" y2="847.8" stroke-width="4"/>
<line x1="4287.8" y1="706.6" x2="4289.9" y2="812.7" stroke-width="2.8"/>
<line x1="4221.7" y1="847.8" x2="4289.9" y2="812.7" stroke-width="2.6"/>
<line x1="3216.1" y1="271" x2="4221.7" y2="847.8" stroke-width="2.4"/>
<line x1="3394.1" y1="189.8" x2="3539" y2="101" stroke-width="2.4"/>
<line x1="3663.3" y1="172.2" x2="4344" y2="564.2" stroke-width="2.2"/>
<line x1="4344" y1="564.2" x2="4193.6" y2="651.4" stroke-width="3.2"/>
<line x1="4344" y1="564.2" x2="4345" y2="950.5" stroke-width="2.4"/>
<line x1="4345" y1="950.5" x2="4260.8" y2="994.6" stroke-width="2.4"/>
<line x1="3242.4" y1="285" x2="3242.4" y2="870" stroke-width="3.6"/>
<line x1="4260.5" y1="832.7" x2="4260.5" y2="1409.4" stroke-width="3"/>
<line x1="4221.8" y1="848" x2="4221.8" y2="1468.9" stroke-width="4.2"/>
<line x1="4226.6" y1="848" x2="4226.6" y2="1459.5" stroke-width="2.2"/>
<line x1="3236.1" y1="900.3" x2="4221.4" y2="1468.9" stroke-width="2.4"/>
<line x1="3236.1" y1="868.5" x2="4220.1" y2="1436.1" stroke-width="5.5"/>
<line x1="3236.1" y1="869.9" x2="3236.1" y2="900.3" stroke-width="2.4"/>
<polyline points="4221.4,1468.9 4266.9,1443.5 4266.9,1412.1 4260.5,1409.4" stroke-width="2.4" fill="none"/>
<polyline points="4226.8,1460.2 4262.2,1440.2 4262.2,1435 4260.5,1433 4262.5,1430 4264.2,1428.1 4264.2,1413" stroke-width="2.4" fill="none"/>
<polygon points="3272.6,329.5 4191.8,857.8 4191.8,1404.9 3272.6,874.6" stroke-width="2.4" fill="none"/>
<polyline points="3539.3,102.3 3539.3,8.4 3551.9,1.8 3672.2,71 3674,166 3663.2,172.1" stroke-width="2.4" fill="none"/>
<line x1="3541" y1="6.6" x2="3663.5" y2="75" stroke-width="5.2"/>
<line x1="3663.2" y1="77" x2="3663.2" y2="172.1" stroke-width="3"/>
<line x1="3663.2" y1="77" x2="3672.2" y2="71" stroke-width="2"/>
<line x1="3539.3" y1="102.3" x2="3663.2" y2="172.1" stroke-width="2.4"/>
</g>
</svg>
</body></html>
